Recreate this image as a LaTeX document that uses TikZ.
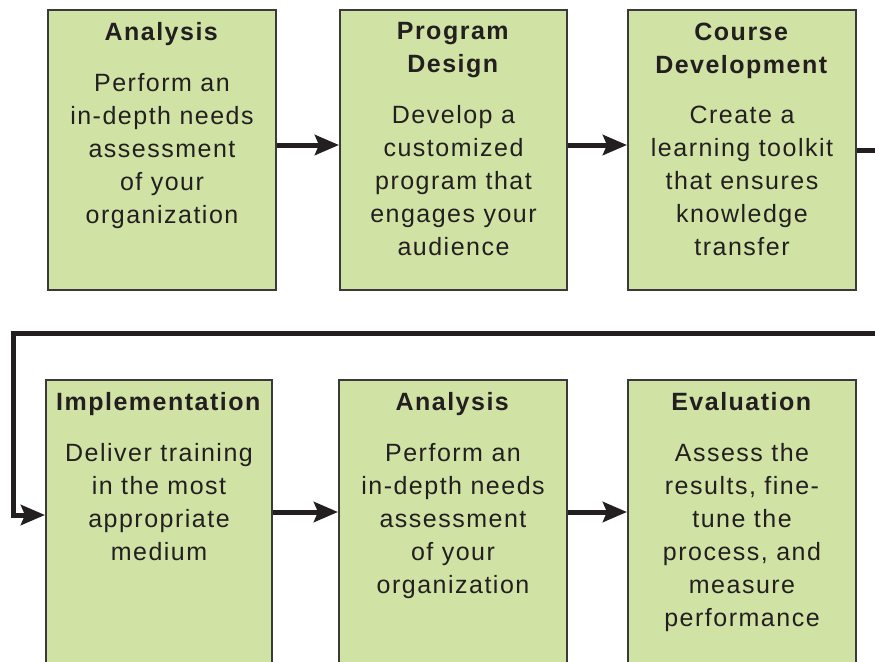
\documentclass[tikz,border=0pt]{standalone}
\usepackage{fontspec}
\setmainfont{Liberation Sans}[LetterSpace=6]
\usetikzlibrary{positioning,arrows.meta}
\definecolor{boxfill}{RGB}{209,226,165}
\definecolor{boxline}{RGB}{58,58,58}
\definecolor{ink}{RGB}{35,31,32}
\newcommand{\ttl}[1]{\textbf{#1}}

\begin{document}
\begin{tikzpicture}[x=1pt,y=-1pt,
    stagebox/.style={draw=boxline,line width=2pt,fill=boxfill,minimum width=228pt,minimum height=280pt,inner sep=0pt},
    stagetext/.style={text=ink,align=center,inner sep=0pt,font=\fontsize{25}{33}\selectfont},
    flow/.style={draw=ink,line width=5pt,-{Stealth[length=24pt,width=20pt,inset=4pt]}}]
\useasboundingbox (0,0) rectangle (875,661);
\clip (0,0) rectangle (875,661);
\node[stagebox] (analysis) at (162,150) {};
\node[stagebox,minimum width=227pt] (design) at (453.5,150) {};
\node[stagebox] (development) at (742,150) {};
\node[stagebox,minimum width=226pt,minimum height=320pt] (implementation) at (159,540) {};
\node[stagebox,minimum height=320pt] (analysisb) at (453,540) {};
\node[stagebox,minimum height=320pt] (evaluation) at (742,540) {};
\node[stagetext,below=13.5pt of analysis.north] (analysistxt) {\ttl{Analysis}\\[17.5pt]Perform an\\in-depth needs\\assessment\\of your\\organization};
\node[stagetext,below=13.5pt of design.north] (designtxt) {\ttl{Program}\\\ttl{Design}\\[17.5pt]Develop a\\customized\\program that\\engages your\\audience};
\node[stagetext,below=13.5pt of development.north] (developmenttxt) {\ttl{Course}\\\ttl{Development}\\[17.5pt]Create a\\learning toolkit\\that ensures\\knowledge\\transfer};
\node[stagetext,below=13.5pt of implementation.north] (implementationtxt) {\ttl{Implementation}\\[17.5pt]Deliver training\\in the most\\appropriate\\medium};
\node[stagetext,below=13.5pt of analysisb.north] (analysisbtxt) {\ttl{Analysis}\\[17.5pt]Perform an\\in-depth needs\\assessment\\of your\\organization};
\node[stagetext,below=13.5pt of evaluation.north] (evaluationtxt) {\ttl{Evaluation}\\[17.5pt]Assess the\\results, fine-\\tune the\\process, and\\measure\\performance};
\coordinate (loopR) at (920,150);
\coordinate (loopL) at (13,333);
\draw[flow] (analysis.east |- 0,145) -- (design.west |- 0,145);
\draw[flow] (design.east |- 0,145) -- (development.west |- 0,145);
\draw[flow] (development.east |- loopR) -- (loopR) |- (loopL) |- (implementation.west |- 0,515);
\draw[flow] (implementation.east |- 0,512) -- (analysisb.west |- 0,512);
\draw[flow] (analysisb.east |- 0,512) -- (evaluation.west |- 0,512);
\end{tikzpicture}
\end{document}
